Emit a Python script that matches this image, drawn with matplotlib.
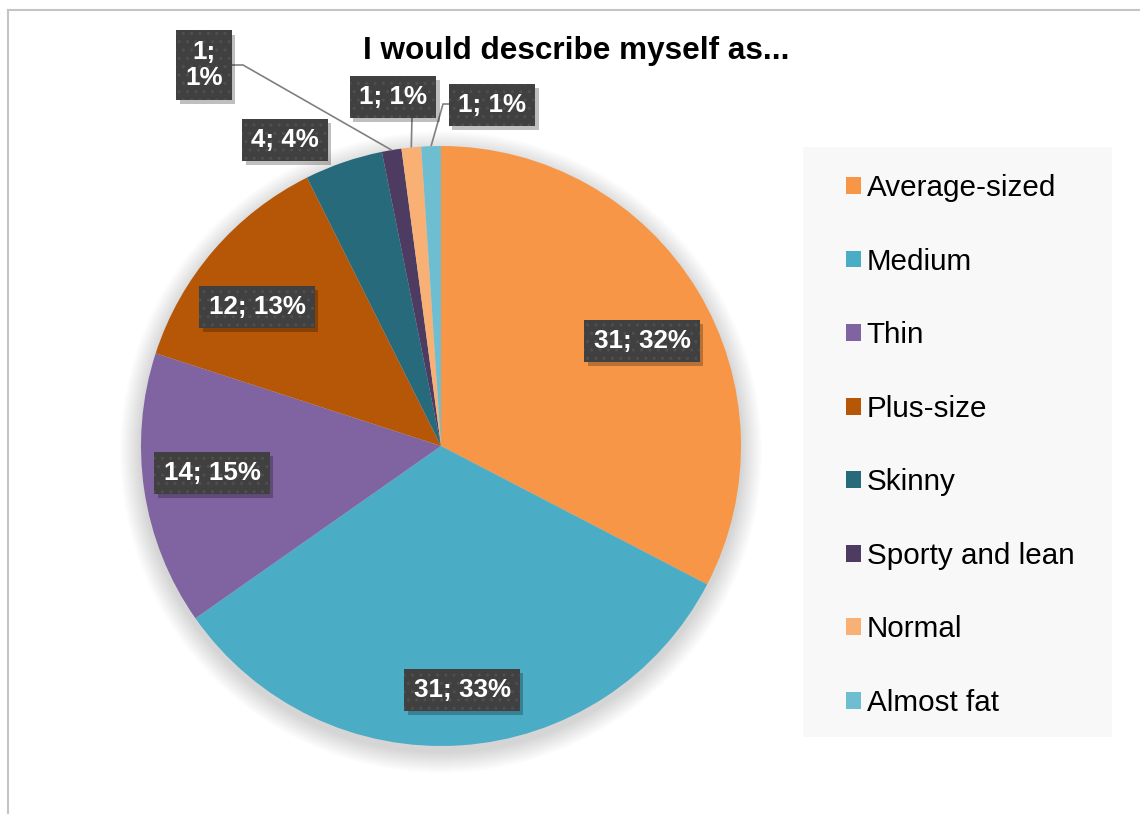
import numpy as np
import matplotlib.pyplot as plt
import matplotlib.patheffects as pe
from matplotlib.patches import Circle, Rectangle
from matplotlib.lines import Line2D

categories = ['Average-sized', 'Medium', 'Thin', 'Plus-size', 'Skinny',
              'Sporty and lean', 'Normal', 'Almost fat']
counts = [31, 31, 14, 12, 4, 1, 1, 1]
percent_labels = ['32%', '33%', '15%', '13%', '4%', '1%', '1%', '1%']
colors = ['#F79646', '#4BACC6', '#8064A2', '#B65708', '#276A7C',
          '#4D3B62', '#F9B074', '#6FBDD1']
title = 'I would describe myself as...'

W, H = 1140, 814
FONT = 'Liberation Sans'


def px(x, y):
    """Convert top-left pixel coordinates into axes data coordinates"""
    return (x, H - y)


fig = plt.figure(figsize=(W / 100, H / 100), dpi=100)
fig.patch.set_facecolor('white')
ax = fig.add_axes([0, 0, 1, 1])

center = px(441, 446)
radius = 300

# soft drop shadow behind the pie
for k in range(1, 22):
    ax.add_patch(Circle((center[0], center[1] - 6), radius + k, color='black',
                        alpha=0.007, lw=0, zorder=0))

wedges, _ = ax.pie(counts, colors=colors, startangle=90, counterclock=False,
                   center=center, radius=radius,
                   wedgeprops=dict(linewidth=0, zorder=1))

ax.set_xlim(0, W)
ax.set_ylim(0, H)
ax.set_aspect('equal')
ax.axis('off')

# data label box centres (pixels) and leader elbows for the thin slices
label_pos = [(642, 341), (462, 690), (212, 473), (257, 307), (285, 140),
             (204, 65), (393, 97), (492, 105)]
leaders = {5: [(232, 65), (243, 65)], 6: [(412, 117)], 7: [(452, 104), (443, 104)]}

text_kw = dict(ha='center', va='center', fontsize=18.7, fontweight='bold',
               family=FONT, linespacing=1.15)
box_kw = dict(boxstyle='square,pad=0.35', linewidth=0)

for i, w in enumerate(wedges):
    sep = ';\n' if i == 5 else '; '
    text = f'{counts[i]}{sep}{percent_labels[i]}'
    xy = px(*label_pos[i])

    # plain box carrying the drop shadow
    base = ax.text(*xy, text, color='none', zorder=5,
                   bbox=dict(facecolor='#404040', edgecolor='none', **box_kw), **text_kw)
    base.get_bbox_patch().set_path_effects([
        pe.withSimplePatchShadow(offset=(2.5, -3), shadow_rgbFace='black', alpha=0.25)])
    # dotted texture and the label itself on top
    ax.text(*xy, text, color='white', zorder=6,
            bbox=dict(facecolor='none', edgecolor='#4F4F4F', hatch='..', **box_kw),
            **text_kw)

    if i in leaders:
        mid = np.deg2rad((w.theta1 + w.theta2) / 2)
        rim = (center[0] + radius * np.cos(mid), center[1] + radius * np.sin(mid))
        pts = [px(*p) for p in leaders[i]] + [rim]
        xs, ys = zip(*pts)
        ax.plot(xs, ys, color='#808080', lw=1.2, zorder=4, solid_capstyle='butt')

# title
fig.text(576 / W, 1 - 51 / H, title, ha='center', va='center',
         fontsize=22.7, fontweight='bold', family=FONT, color='black')

# legend panel
x0, y0 = px(803, 737)
ax.add_patch(Rectangle((x0, y0), 1112 - 803, 737 - 147, facecolor='#F8F8F8',
                       edgecolor='none', zorder=0))
leg = ax.legend(wedges, categories, loc='upper left',
                bbox_to_anchor=(846 / W, 1 - 174 / H), bbox_transform=fig.transFigure,
                frameon=False, borderpad=0, borderaxespad=0,
                prop=dict(family=FONT, size=21.3),
                handlelength=0.5, handleheight=0.5, handletextpad=0.2,
                labelspacing=1.54)

# chart area border (top and left edges)
fig.add_artist(Line2D([8 / W, 1], [1 - 9.5 / H, 1 - 9.5 / H],
                      transform=fig.transFigure, color='#C4C4C4', lw=1.5))
fig.add_artist(Line2D([8 / W, 8 / W], [0, 1 - 9.5 / H],
                      transform=fig.transFigure, color='#C4C4C4', lw=1.5))

fig.savefig('out.png', dpi=100)
